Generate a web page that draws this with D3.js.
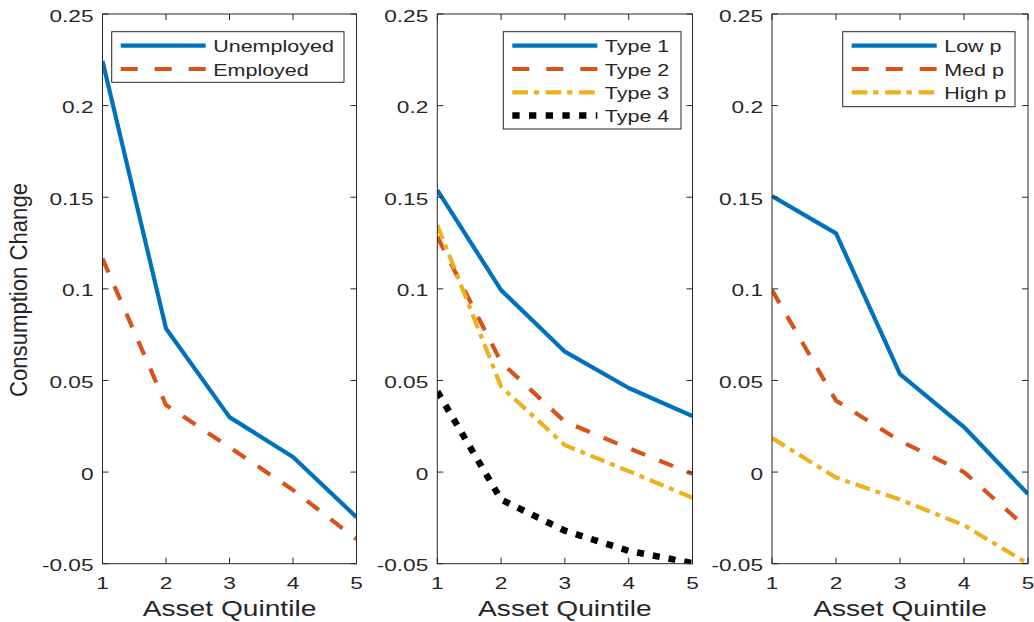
<!DOCTYPE html>
<html><head><meta charset="utf-8">
<script src="https://cdn.jsdelivr.net/npm/d3@7"></script>
<style>body{margin:0;background:#fff}svg{display:block}text{font-family:"Liberation Sans",Arial,Helvetica,sans-serif;fill:#262626}</style>
</head><body><svg id="c" width="1034" height="622"></svg>
<script>
const quintiles = [1, 2, 3, 4, 5];
const yTicks = [-0.05, 0, 0.05, 0.1, 0.15, 0.2, 0.25];
const yTickLabels = ["-0.05", "0", "0.05", "0.1", "0.15", "0.2", "0.25"];
// Panel 1
const unemployed = [0.2243, 0.0784, 0.0300, 0.0082, -0.0246];
const employed   = [0.1165, 0.0366, 0.0136, -0.0098, -0.0366];
// Panel 2
const type1 = [0.1539, 0.0993, 0.0657, 0.0459, 0.0306];
const type2 = [0.1285, 0.0600, 0.0275, 0.0130, -0.0010];
const type3 = [0.1348, 0.0466, 0.0147, 0.0005, -0.0140];
const type4 = [0.0440, -0.0150, -0.0320, -0.0430, -0.0497];
// Panel 3
const lowP  = [0.1507, 0.1303, 0.0535, 0.0246, -0.0120];
const medP  = [0.0993, 0.0390, 0.0170, 0.0000, -0.0310];
const highP = [0.0186, -0.0030, -0.0150, -0.0290, -0.0500];

(function(){
const C = {blue:"#0072BD", red:"#D95319", yellow:"#EDB120", black:"#000000"};
const ST = {
  solid:{dash:null,w:4.2},
  dash:{dash:"15,15",w:4.2},
  dashdot:{dash:"15,6,5,6",w:4.2},
  dot:{dash:"7,9",w:6.5}
};
const LST = {
  solid:{dash:null,w:4.2},
  dash:{dash:"17,17",w:4.2},
  dashdot:{dash:"15.7,5.7,5.3,6.7",w:4.2},
  dot:{dash:"7.3,9.4",w:6.5}
};
const panels = [
  {left:102.5, right:356.5, legend:{x0:111.7,x1:344,y0:31.7,y1:82.3},
   series:[{name:"Unemployed",v:unemployed,c:C.blue,s:"solid"},{name:"Employed",v:employed,c:C.red,s:"dash"}]},
  {left:437.3, right:692.5, legend:{x0:503.3,x1:681,y0:31.7,y1:129},
   series:[{name:"Type 1",v:type1,c:C.blue,s:"solid"},{name:"Type 2",v:type2,c:C.red,s:"dash"},
           {name:"Type 3",v:type3,c:C.yellow,s:"dashdot"},{name:"Type 4",v:type4,c:C.black,s:"dot"}]},
  {left:772, right:1028, legend:{x0:842.7,x1:1015,y0:31.7,y1:106.7},
   series:[{name:"Low p",v:lowP,c:C.blue,s:"solid"},{name:"Med p",v:medP,c:C.red,s:"dash"},{name:"High p",v:highP,c:C.yellow,s:"dashdot"}]}
];
const pTop = 14, pBottom = 563.7;
const svg = d3.select("#c");
const y = d3.scaleLinear().domain([-0.05, 0.25]).range([pBottom, pTop]);
const axisCol = "#262626", tickLen = 6;
function stxt(g, x, yy, sx, size, anchor, str, fill) {
  return g.append("text").attr("transform", `translate(${x},${yy}) scale(${sx},1)`)
    .attr("text-anchor", anchor).attr("font-size", size).attr("fill", fill || axisCol).text(str);
}

panels.forEach((p, pi) => {
  const x = d3.scaleLinear().domain([1, 5]).range([p.left, p.right]);
  const g = svg.append("g");
  const clipId = "clip" + pi;
  svg.append("clipPath").attr("id", clipId).append("rect")
    .attr("x", p.left).attr("y", pTop).attr("width", p.right - p.left).attr("height", pBottom - pTop);
  const line = d3.line().x((d, i) => x(quintiles[i])).y(d => y(d));
  p.series.forEach(s => {
    const st = ST[s.s];
    g.append("path").attr("d", line(s.v)).attr("fill", "none").attr("stroke", s.c)
      .attr("stroke-width", st.w).attr("stroke-dasharray", st.dash).attr("stroke-linecap", "butt")
      .attr("stroke-linejoin", "round").attr("clip-path", "url(#" + clipId + ")");
  });
  g.append("rect").attr("x", p.left).attr("y", pTop).attr("width", p.right - p.left).attr("height", pBottom - pTop)
    .attr("fill", "none").attr("stroke", axisCol).attr("stroke-width", 1);
  yTicks.forEach((t, i) => {
    const yy = y(t);
    g.append("line").attr("x1", p.left).attr("x2", p.left + tickLen).attr("y1", yy).attr("y2", yy).attr("stroke", axisCol);
    g.append("line").attr("x1", p.right).attr("x2", p.right - tickLen).attr("y1", yy).attr("y2", yy).attr("stroke", axisCol);
    stxt(g, p.left - 9, yy + 7.6, 1.39, 16.3, "end", yTickLabels[i]);
  });
  quintiles.forEach(q => {
    const xx = x(q);
    g.append("line").attr("x1", xx).attr("x2", xx).attr("y1", pBottom).attr("y2", pBottom - tickLen).attr("stroke", axisCol);
    g.append("line").attr("x1", xx).attr("x2", xx).attr("y1", pTop).attr("y2", pTop + tickLen).attr("stroke", axisCol);
    stxt(g, xx, 588.5, 1.39, 16.3, "middle", q);
  });
  stxt(g, (p.left + p.right) / 2, 615.5, 1.28, 22, "middle", "Asset Quintile");
  const L = p.legend;
  g.append("rect").attr("x", L.x0).attr("y", L.y0).attr("width", L.x1 - L.x0).attr("height", L.y1 - L.y0)
    .attr("fill", "#fff").attr("stroke", axisCol).attr("stroke-width", 1);
  const lineX0 = L.x0 + 9, lineX1 = L.x0 + 94;
  p.series.forEach((s, i) => {
    const ry = L.y0 + 14 + i * 23.3;
    const st = LST[s.s];
    g.append("line").attr("x1", lineX0).attr("x2", lineX1).attr("y1", ry).attr("y2", ry)
      .attr("stroke", s.c).attr("stroke-width", st.w).attr("stroke-dasharray", st.dash);
    stxt(g, lineX1 + 7.5, ry + 6.6, 1.28, 16.8, "start", s.name, "#000");
  });
});
svg.append("text").attr("transform", "translate(27,290) rotate(-90)").attr("text-anchor", "middle")
  .attr("font-size", 23).attr("textLength", 214).attr("lengthAdjust", "spacingAndGlyphs")
  .text("Consumption Change");
})();
</script></body></html>
